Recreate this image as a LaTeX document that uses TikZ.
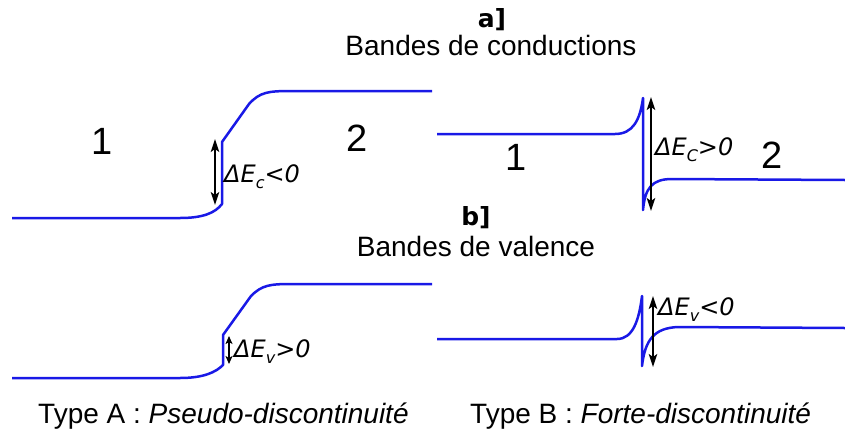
\documentclass[tikz,border=0pt]{standalone}
\usepackage{fontspec}
\setmainfont{Liberation Sans}
\newfontfamily\dejavu{DejaVu Sans}[BoldFont={DejaVu Sans Bold},ItalicFont={DejaVu Sans Oblique}]
\usetikzlibrary{arrows.meta}
\definecolor{bandblue}{RGB}{25,25,230}
\newcommand{\dsub}[1]{\raisebox{-0.28em}{\fontsize{16}{16}\selectfont #1}}
\begin{document}
\begin{tikzpicture}[x=1pt,y=-1pt,
  band/.style={draw=bandblue,line width=2.5pt,line join=round},
  gap/.style={draw=black,line width=1.6pt,{Stealth[length=13pt,width=8.5pt,inset=3pt]}-{Stealth[length=13pt,width=8.5pt,inset=3pt]}},
  title/.style={anchor=base,inner sep=0pt,font=\fontsize{28}{32}\selectfont},
  tag/.style={anchor=base,inner sep=0pt,font=\dejavu\bfseries\fontsize{25}{28}\selectfont},
  num/.style={inner sep=0pt,font=\fontsize{38}{42}\selectfont},
  dlabel/.style={anchor=base west,inner sep=0pt,font=\dejavu\itshape\fontsize{24}{28}\selectfont},
  caption/.style={anchor=base west,inner sep=0pt,font=\fontsize{28}{32}\selectfont}]
\useasboundingbox (0,0) rectangle (845,434);

% titles
\node[tag]   (ta) at (492,27) {a]};
\node[title] (tc) at (491,55) {Bandes de conductions};
\node[tag]   (tb) at (476,225) {b]};
\node[title] (tv) at (476,256) {Bandes de valence};

% Type A conduction
\path[band] (12,218) -- (180,218) .. controls (203,218) and (215,213) .. (222,204)
  -- (222,142) -- (249,104) .. controls (260,92) and (268,91) .. (292,91) -- (432,91);
\coordinate (ac1) at (215,139);
\coordinate (ac2) at (215,205);
\draw[gap] (ac1) -- (ac2);
\node[dlabel] (lac) at (224,182) {ΔE\dsub{c}<0};
\node[num] (a1) at (102,141) {1};
\node[num] (a2) at (357,138) {2};

% Type A valence
\path[band] (12,378) -- (180,378) .. controls (204,378) and (216,372) .. (223,365)
  -- (223,335) -- (251,296) .. controls (262,285) and (270,284) .. (292,284) -- (432,284);
\coordinate (av1) at (229,336);
\coordinate (av2) at (229,364);
\draw[gap,{Stealth[length=8pt,width=7pt,inset=2pt]}-{Stealth[length=8pt,width=7pt,inset=2pt]}] (av1) -- (av2);
\node[dlabel] (lav) at (234,357) {ΔE\dsub{v}>0};

% Type B conduction
\path[band] (437,134) -- (615,134) .. controls (633,134) and (640,120) .. (643,98)
  -- (643,210) .. controls (645,188) and (652,179) .. (672,179) -- (845,180);
\coordinate (bc1) at (651,97);
\coordinate (bc2) at (651,211);
\draw[gap] (bc1) -- (bc2);
\node[dlabel] (lbc) at (655,155) {ΔE\dsub{C}>0};
\node[num] (b1) at (516,157) {1};
\node[num] (b2) at (772,155) {2};

% Type B valence
\path[band] (437,339) -- (617,339) .. controls (633,339) and (639,320) .. (642,296)
  -- (642,366) .. controls (645,340) and (654,328) .. (678,327) -- (845,328);
\coordinate (bv1) at (653,296);
\coordinate (bv2) at (653,367);
\draw[gap] (bv1) -- (bv2);
\node[dlabel] (lbv) at (658,315) {ΔE\dsub{v}<0};

% captions
\node[caption] (capA) at (38,423) {Type A : \textit{Pseudo-discontinuité}};
\node[caption] (capB) at (470,423) {Type B : \textit{Forte-discontinuité}};
\end{tikzpicture}
\end{document}
